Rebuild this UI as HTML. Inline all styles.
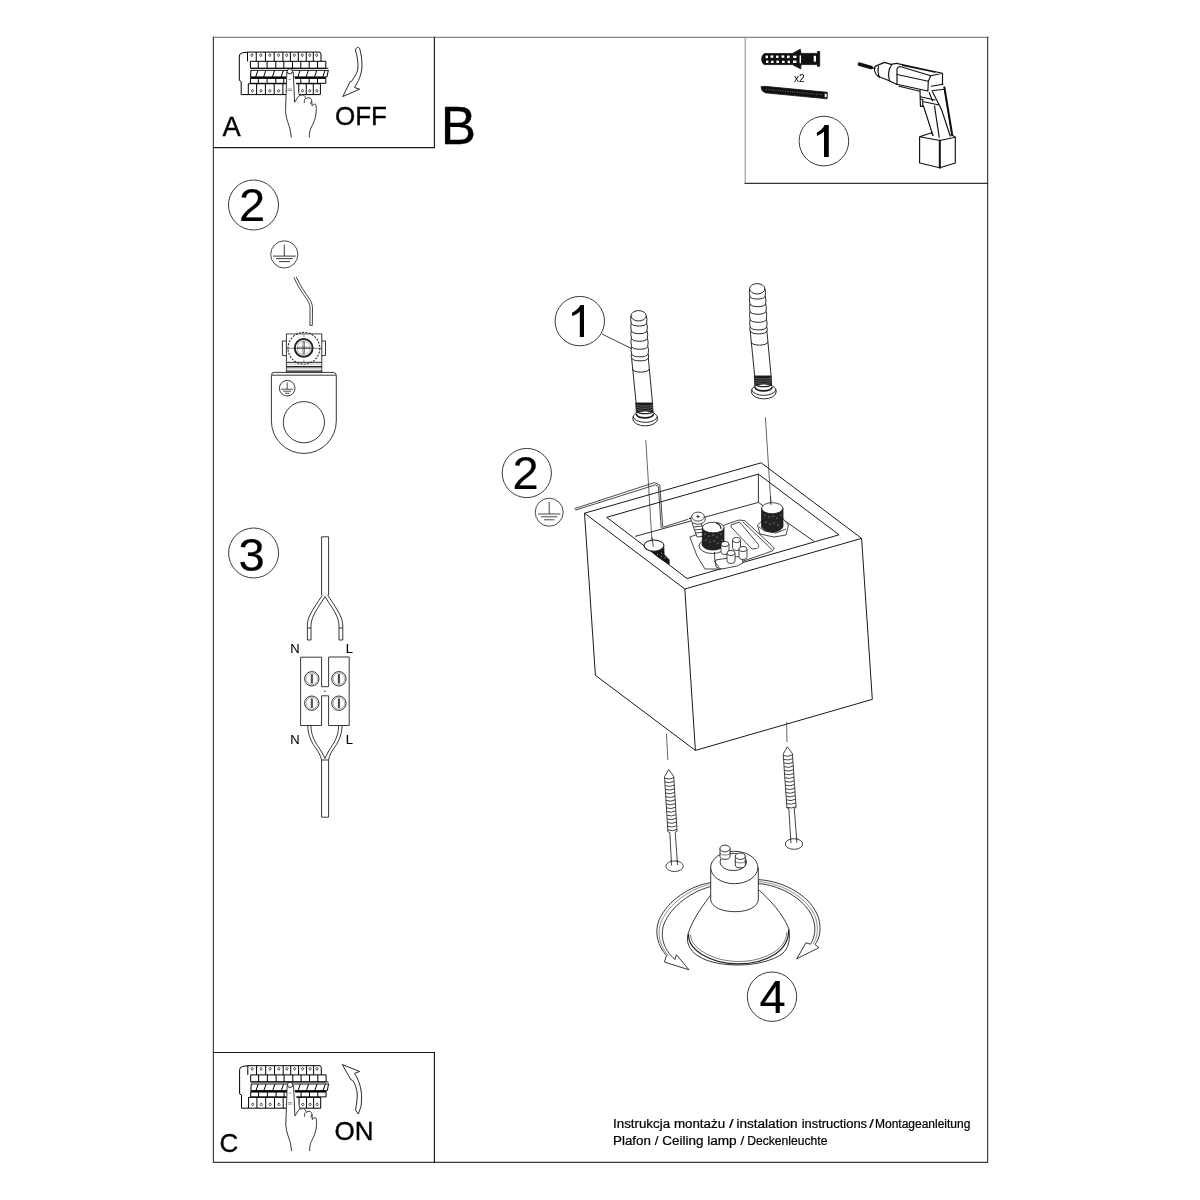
<!DOCTYPE html>
<html><head><meta charset="utf-8">
<style>
html,body{margin:0;padding:0;background:#fff;width:1200px;height:1200px;overflow:hidden}
svg{position:absolute;left:0;top:0;display:block;will-change:transform}
text{font-family:"Liberation Sans",sans-serif;fill:#000}
</style></head><body>
<svg width="1200" height="1200" viewBox="0 0 1200 1200">
<g fill="none" stroke-width="1.15" stroke-linecap="square">
<path d="M213.5 37.3 H988" stroke="#888"/>
<path d="M213.4 37.3 V1162.4 H987.6 V37.3" stroke="#3c3c3c"/>
<path d="M434.4 37.3 V147.6 H213.5" stroke="#1c1c1c"/>
<path d="M745.2 37.3 V183.3" stroke="#999"/>
<path d="M745.2 183.3 H987.6" stroke="#333"/>
<path d="M213.5 1052.5 H434.4 V1162.4" stroke="#151515"/>
</g>
<g stroke="#000" stroke-width="0.35">
<text x="222.6" y="135.9" font-size="27.3">A</text>
<text x="335" y="125" font-size="26">OFF</text>
<text x="440.8" y="143.6" font-size="53">B</text>
<text x="219.5" y="1151.5" font-size="26">C</text>
<text x="334.5" y="1139.5" font-size="26">ON</text>
</g>
<g font-size="12" fill="#000" stroke="#000" stroke-width="0.22">
<text x="613.0" y="1128" textLength="57.1" lengthAdjust="spacingAndGlyphs">Instrukcja</text>
<text x="673.9" y="1128" textLength="51.2" lengthAdjust="spacingAndGlyphs">montażu</text>
<text x="728.9" y="1128" textLength="4.5" lengthAdjust="spacingAndGlyphs">/</text>
<text x="736.4" y="1128" textLength="61.2" lengthAdjust="spacingAndGlyphs">instalation</text>
<text x="801.7" y="1128" textLength="65.4" lengthAdjust="spacingAndGlyphs">instructions</text>
<text x="869.2" y="1128" textLength="4.5" lengthAdjust="spacingAndGlyphs">/</text>
<text x="875.0" y="1128" textLength="95.4" lengthAdjust="spacingAndGlyphs">Montageanleitung</text>
<text x="613.0" y="1145" textLength="37.9" lengthAdjust="spacingAndGlyphs">Plafon</text>
<text x="654.7" y="1145" textLength="3.7" lengthAdjust="spacingAndGlyphs">/</text>
<text x="662.2" y="1145" textLength="41.2" lengthAdjust="spacingAndGlyphs">Ceiling</text>
<text x="707.2" y="1145" textLength="29.5" lengthAdjust="spacingAndGlyphs">lamp</text>
<text x="740.5" y="1145" textLength="3.7" lengthAdjust="spacingAndGlyphs">/</text>
<text x="747.2" y="1145" textLength="80.2" lengthAdjust="spacingAndGlyphs">Deckenleuchte</text>
</g>
<g><text x="794" y="81.5" font-size="10">x2</text>
</g>
<g fill="none" stroke="#3a3a3a" stroke-width="1">
<circle cx="823.9" cy="141.1" r="24.8"/>
<circle cx="253.5" cy="205" r="25"/>
<circle cx="253.6" cy="553" r="25"/>
<circle cx="579.8" cy="321.1" r="24.7"/>
<circle cx="526.8" cy="473" r="24.6"/>
<circle cx="772" cy="996.7" r="24.7"/>
</g>
<g font-size="47" stroke="#000" stroke-width="0.2">
<text x="239" y="220.5">2</text>
<text x="238.5" y="570.6">3</text>
<text x="512.5" y="489">2</text>
<text x="759.5" y="1013">4</text>
</g>
<g fill="#000">
<path d="M824 125 H828.8 V157 H824 V131.5 C822 133.5 819.5 135 816.9 135.9 V132.6 C820 131 823 128.5 824.6 125 Z"/>
<path d="M579.8 305 H584 V337 H579.8 V311.5 C577.8 313.5 575 315 572.1 316.1 V312.7 C575.5 311 578.5 308.5 580.4 305 Z"/>
</g>
<defs><g id="panelA"><g fill="none" stroke="#000" stroke-width="1" stroke-linejoin="round"><path d="M247.5 52.1 L242.5 52.8 Q239.3 53.6 239.3 56 V80.3 L241.2 81.6 V94.6 H248.3" /><path d="M247.5 61.3 V52.1 H320 L321 54 V61.3"/><path d="M256.25 52.1 V61.3"/><path d="M265.4 52.1 V61.3"/><path d="M274.2 52.1 V61.3"/><path d="M282.9 52.1 V61.3"/><path d="M290.4 52.1 V61.3"/><path d="M298.3 52.1 V61.3"/><path d="M306.25 52.1 V61.3"/><path d="M313.3 52.1 V61.3"/><path d="M251.88 53.70 L253.07 55.20 L251.88 56.70 L250.68 55.20 Z" stroke-width="0.7"/><path d="M260.82 53.70 L262.02 55.20 L260.82 56.70 L259.62 55.20 Z" stroke-width="0.7"/><path d="M269.80 53.70 L271.00 55.20 L269.80 56.70 L268.60 55.20 Z" stroke-width="0.7"/><path d="M278.55 53.70 L279.75 55.20 L278.55 56.70 L277.35 55.20 Z" stroke-width="0.7"/><path d="M286.65 53.70 L287.85 55.20 L286.65 56.70 L285.45 55.20 Z" stroke-width="0.7"/><path d="M294.35 53.70 L295.55 55.20 L294.35 56.70 L293.15 55.20 Z" stroke-width="0.7"/><path d="M302.27 53.70 L303.47 55.20 L302.27 56.70 L301.07 55.20 Z" stroke-width="0.7"/><path d="M309.77 53.70 L310.97 55.20 L309.77 56.70 L308.57 55.20 Z" stroke-width="0.7"/><path d="M316.65 53.70 L317.85 55.20 L316.65 56.70 L315.45 55.20 Z" stroke-width="0.7"/><rect x="250.4" y="61.3" width="75.4" height="7"/><path d="M258.3 61.3 V68.3"/><path d="M267.1 61.3 V68.3"/><path d="M275.8 61.3 V68.3"/><path d="M283.8 61.3 V68.3"/><path d="M292.5 61.3 V68.3"/><path d="M300.8 61.3 V68.3"/><path d="M309.2 61.3 V68.3"/><path d="M317.5 61.3 V68.3"/><path d="M251 68.3 H328.3 M251 70.4 H328.3" stroke-width="0.9"/><path d="M251 70 L250.5 77.1 H327 L328.3 70"/><path d="M257.9 70.5 L255.7 77"/><path d="M265.8 70.5 L263.6 77"/><path d="M274.6 70.5 L272.40000000000003 77"/><path d="M283.3 70.5 L281.1 77"/><path d="M291.3 70.5 L289.1 77"/><path d="M300.0 70.5 L297.8 77"/><path d="M308.3 70.5 L306.1 77"/><path d="M316.7 70.5 L314.5 77"/><path d="M325.0 70.5 L322.8 77"/><path d="M250.5 77.7 H325.8" stroke-width="1.8"/><rect x="250.4" y="78.3" width="75.4" height="5"/><path d="M258.3 78.3 V83.3"/><path d="M267.1 78.3 V83.3"/><path d="M275.8 78.3 V83.3"/><path d="M283.8 78.3 V83.3"/><path d="M292.5 78.3 V83.3"/><path d="M300.8 78.3 V83.3"/><path d="M309.2 78.3 V83.3"/><path d="M317.5 78.3 V83.3"/><path d="M248.3 83.75 H320.4 V94.6 H248.3 Z"/><path d="M256.6 83.75 V94.6"/><path d="M265.4 83.75 V94.6"/><path d="M274.2 83.75 V94.6"/><path d="M282.9 83.75 V94.6"/><path d="M291.3 83.75 V94.6"/><path d="M298.75 83.75 V94.6"/><path d="M306.25 83.75 V94.6"/><path d="M313.3 83.75 V94.6"/><path d="M252.45 89.30 L253.65 90.80 L252.45 92.30 L251.25 90.80 Z" stroke-width="0.7"/><path d="M261.00 89.30 L262.20 90.80 L261.00 92.30 L259.80 90.80 Z" stroke-width="0.7"/><path d="M269.80 89.30 L271.00 90.80 L269.80 92.30 L268.60 90.80 Z" stroke-width="0.7"/><path d="M278.55 89.30 L279.75 90.80 L278.55 92.30 L277.35 90.80 Z" stroke-width="0.7"/><path d="M287.10 89.30 L288.30 90.80 L287.10 92.30 L285.90 90.80 Z" stroke-width="0.7"/><path d="M295.02 89.30 L296.22 90.80 L295.02 92.30 L293.82 90.80 Z" stroke-width="0.7"/><path d="M302.50 89.30 L303.70 90.80 L302.50 92.30 L301.30 90.80 Z" stroke-width="0.7"/><path d="M309.77 89.30 L310.97 90.80 L309.77 92.30 L308.57 90.80 Z" stroke-width="0.7"/><path d="M316.85 89.30 L318.05 90.80 L316.85 92.30 L315.65 90.80 Z" stroke-width="0.7"/></g><path fill="#fff" stroke="none" d="M286.8 71 L293.3 71 L294.6 102.3 L298.3 96.5 C299 95.5 301 95 303 95 C304.5 95 305.5 97 306 99 C306.8 97.8 308.5 97.5 310 98 C311.5 98.5 312 101 312 106 C312.8 105 314 104 315.2 104 C316 104.5 316.5 107 316.2 111.5 C316 118 313.5 123 311 128 C310 130 309.3 133 309.3 137.5 L291.4 137.5 L290 129 C289 125 286 119 285.5 111.5 C285.8 100 286.6 85 286.8 71 Z"/><path fill="#fff" stroke="#222" stroke-width="0.9" d="M286.8 72 C286.6 85 285.8 100 285.5 111.5 C286 119 289 125 290 129 L291.4 137.5 M309.3 137.5 C309.3 133 310 130 311 128 C313.5 123 316 118 316.2 111.5 C316.5 107 316 104.5 315.2 104 C314 104 312.8 105 312 106 C312 101 311.5 98.5 310 98 C308.5 97.5 306.8 97.8 306 99 C305.5 97 304.5 95 303 95 C301 95 299 95.5 298.3 96.5 L294.6 102.3 L293.3 72"/><path fill="none" stroke="#222" stroke-width="0.8" d="M304.2 103.2 L304.5 99 M310.5 104 L311.5 101 M286.8 72 L293.3 72"/><circle cx="289.8" cy="71.3" r="2.6" fill="#fff" stroke="#111" stroke-width="0.9"/><path fill="none" stroke="#555" stroke-width="0.6" d="M288.5 79.5 H291 M287.5 89 H292 M287.5 90.5 H292"/></g></defs>
<use href="#panelA"/>
<use href="#panelA" transform="translate(0.3 1013.6)"/>
<path fill="#fff" stroke="#111" stroke-width="0.9" stroke-linejoin="round" d="M357.75 47.3 C356 48 355.3 49.5 355.6 51 C357 55 357.8 60 358 66 C358 70 357 72.5 355.8 74.5 L351.6 81.4 L350.2 81.6 L342.8 96.5 L359.6 89.2 L354.6 87.6 L358.4 80.5 C360.5 76 362 71 362 65 C362 59 361 53 359.6 48.5 C359 47.5 358.5 47.2 357.75 47.3 Z"/>
<path fill="#fff" stroke="#111" stroke-width="0.9" stroke-linejoin="round" d="M342.3 1064.5 L359.6 1071.5 L354.5 1073.4 C357.5 1078 360 1084 361 1090 C362 1096 361.5 1102 361 1106.5 L358.3 1114 L355.6 1110.2 C356.5 1104 357.5 1098 357.2 1093 C356.5 1088 355 1084 352.9 1080.5 L350.7 1079.6 Z"/>
<g fill="none" stroke="#222" stroke-width="0.9">
<!-- earth symbol -->
<circle cx="284.3" cy="254.4" r="13.6" stroke="#333"/>
<path d="M284.3 244.7 V256.1 M273 256.1 H295.8 M276 258.6 H292.8 M279 261.6 H290" stroke="#222"/>
<!-- wire -->
<path d="M293.9 277.4 C297.5 286 302.5 293 307 299.5 C309.5 303 310 306 310.1 309 L309.9 325.4 M296.2 276.8 C300 285.5 305 292.5 309.5 299 C312 302.5 312.5 306 312.5 309 L312.3 325.4" stroke-width="0.85"/>
<path d="M309.9 325.4 H312.3" stroke-width="0.85"/>
<!-- terminal square -->
<path d="M286.4 372.3 V333.8 H321.8 V372.3" />
<path d="M286.4 333.8 H321.8" stroke="#999" stroke-width="1"/>
<path d="M286.4 341 H282.4 V355.6 H286.4 M321.8 341 H325.5 V355.6 H321.8"/>
<circle cx="303.9" cy="348.3" r="15.9" stroke-dasharray="2 1.3" stroke-width="1.1"/>
<circle cx="303.7" cy="347.9" r="8.9" stroke-width="2"/>
<circle cx="303.7" cy="347.9" r="6.6" stroke-width="0.5" stroke="#666"/>
<path d="M286.4 348.3 H321.8" stroke-width="0.6"/>
<path d="M297.8 347.2 H309.6 V348.6 H297.8 Z M303 341.8 H304.4 V353.6 H303 Z" stroke-width="0.6" fill="#fff"/>
<path d="M303.9 332.4 V337 M303.9 359.5 V363" stroke-width="0.8" stroke="#888"/>
<!-- strip -->
<path d="M286.4 362.3 H321.8" stroke-width="1"/>
<path d="M286.4 364.1 H321.8 M286.4 368.75 H321.8 M286.4 372.8 H321.8" stroke-width="0.6" stroke="#999"/>
<path d="M286.4 366.7 H321.8 M286.4 371.1 H321.8" stroke-width="1.4"/>
<!-- lug -->
<path d="M274.5 372.4 H333.2 Q336.3 372.3 336.3 375.4 V421 A32.4 32.4 0 0 1 271.4 421 V375.4 Q271.4 372.3 274.5 372.3 Z"/>
<circle cx="303.9" cy="422.2" r="20.6"/>
<path d="M271.8 375.2 H335.9" stroke-width="0.9"/>
<circle cx="287.2" cy="388.2" r="7.8"/>
<path d="M287.2 382.5 V389.2 M281.2 389.2 H293.2 M283.2 391.2 H291.2 M285 393.2 H289.4" stroke-width="0.8"/>
</g>
<g fill="none" stroke="#222" stroke-width="0.9">
<!-- top cable -->
<path d="M321.6 595 V536.8 H328.6 V595"/>
<!-- diverging wires -->
<path d="M322.5 595 C318 602 312 610 309 617 C307.5 621 307.3 624 307.4 628 V640 M325 596.5 C320.5 604 315 611 312.5 618 C311.3 621.5 311 624 311 628 V640 M307.4 640 H311 M307.4 628 H311"/>
<path d="M327.6 595 C332 602 338 610 341 617 C342.5 621 342.8 624 342.8 628 V640 M325 596.5 C329.5 604 335 611 337.6 618 C338.8 621.5 339 624 339 628 V640 M339 640 H342.8 M339 628 H342.8"/>
<!-- block -->
<path d="M300.6 657.2 H321.6 V686.7 H328.6 V657 H349.2 V725.5 H328.6 V695.8 H321.6 V725.5 H300.6 Z"/>
<circle cx="324.9" cy="691.1" r="0.9" fill="#666" stroke="none"/>
<g>
<circle cx="311.8" cy="678.8" r="7.2" stroke-width="1" stroke="#333"/><circle cx="311.8" cy="678.8" r="5.8" stroke-width="0.6" stroke="#777"/><path d="M311.3 674.1 V683.5 M312.3 674.1 V683.5" stroke-width="0.9"/>
<circle cx="338.9" cy="678.8" r="7.2" stroke-width="1" stroke="#333"/><circle cx="338.9" cy="678.8" r="5.8" stroke-width="0.6" stroke="#777"/><path d="M338.4 674.1 V683.5 M339.4 674.1 V683.5" stroke-width="0.9"/>
<circle cx="311.8" cy="703.2" r="7.2" stroke-width="1" stroke="#333"/><circle cx="311.8" cy="703.2" r="5.8" stroke-width="0.6" stroke="#777"/><path d="M311.3 698.5 V707.9 M312.3 698.5 V707.9" stroke-width="0.9"/>
<circle cx="338.9" cy="703.2" r="7.2" stroke-width="1" stroke="#333"/><circle cx="338.9" cy="703.2" r="5.8" stroke-width="0.6" stroke="#777"/><path d="M338.4 698.5 V707.9 M339.4 698.5 V707.9" stroke-width="0.9"/>
</g>
<!-- converging wires -->
<path d="M307.8 725.5 C307.8 733 310 740 315 747 C318 751 320.5 755 321.6 760 M311 725.5 C311 732.5 313 739 317.5 745.5 C320.5 750 323 754 324.9 758.5"/>
<path d="M342 725.5 C342 733 339.8 740 334.8 747 C331.8 751 329.3 755 328.6 760 M338.6 725.5 C338.6 732.5 336.6 739 332.2 745.5 C329.2 750 326.8 754 324.9 758.5"/>
<path d="M321.6 760 V817.2 H328.6 V760 Z"/>
</g>
<g font-size="13" stroke="#000" stroke-width="0.1">
<text x="290.2" y="653">N</text>
<text x="345.8" y="653">L</text>
<text x="290.2" y="743.6">N</text>
<text x="345.8" y="743.6">L</text>
</g>
<g stroke-linejoin="round">
<!-- dowel anchor -->
<path fill="#111" stroke="#111" stroke-width="0.8" d="M764.5 53.6 H792.3 L800.3 49.3 L801 53.4 H817.3 L817.6 51.3 L819.7 51.6 V66.2 L817.6 66.4 L817.3 64.6 H801 L800.8 68.9 L792.3 64.6 H764.5 C762 64 761.6 60 761.7 59 C761.8 57 762.5 54.5 764.5 53.6 Z"/>
<g fill="#fff" stroke="none">
<rect x="765.6" y="55.6" width="2.4" height="2.6"/><rect x="770.5" y="55.4" width="2.8" height="2.4"/><rect x="776" y="55.6" width="2.6" height="2.3"/><rect x="781.5" y="55.4" width="2.8" height="2.4"/><rect x="787" y="55.6" width="2.6" height="2.5"/><rect x="793" y="55.7" width="3.5" height="2.2"/>
<rect x="766" y="60.6" width="2.4" height="2.4"/><rect x="771" y="60.8" width="2.6" height="2.2"/><rect x="776.4" y="60.6" width="2.6" height="2.4"/><rect x="782" y="60.8" width="2.6" height="2.2"/><rect x="787.6" y="60.7" width="2.4" height="2.4"/><rect x="793" y="60.6" width="3.4" height="2.4"/>
<rect x="799.6" y="55.4" width="1.4" height="7.8"/><rect x="813.7" y="55.8" width="2.3" height="5.8"/>
</g>
<!-- screw -->
<path fill="#111" stroke="#111" stroke-width="0.8" d="M761 86.8 L764.5 86.3 L827.3 92.3 L827.1 98.8 L765 92.8 L762 90.5 Z"/>
<path fill="#fff" stroke="#111" stroke-width="0.7" d="M824.3 93.3 L827.1 93.6 L826.9 97.8 L824.3 97.3 Z"/>
<path fill="none" stroke="#fff" stroke-width="0.5" stroke-dasharray="0.8 1.6" d="M766 89.3 L823 94.8"/>
</g>
<!-- drill -->
<g fill="none" stroke="#111" stroke-width="1.15" stroke-linejoin="round" stroke-linecap="round">
<path d="M859.5 64.2 L871.5 67.6" stroke-width="3.6" stroke-dasharray="1.3 0.5"/>
<path d="M871 67.4 L875 68.6" stroke-width="1.1"/>
<path d="M875 66.8 C874 69 874.3 73 878 76.2 M878.5 66.5 C877.8 69 877.8 73 879.6 77.6"/>
<path d="M875 66.4 L884.5 62.4 L891 64.4 L896.5 63.4 M878 76.2 L888 80.2 L896.8 84.5"/>
<path d="M891.8 64.8 C888.5 68 887.8 75 889.6 81"/>
<path d="M896.5 63.4 L942.5 73.3 V84.6 M902.5 65.5 L935 72.1 M897 69.2 C897.5 67.5 898.5 66.5 900 66.5 L930.8 75.8 L942.5 73.3 M897 69.2 V84.5"/>
<path d="M897 74.5 L928.3 81.25 M896.8 84.2 L928 91 M899 86.2 L920 91.2 M930.8 75.8 L928.3 81.25 L927.9 90.8 M931.2 86.2 L942.9 84.2"/>
<path d="M920 90.2 L920.4 105.8 M920.5 99.2 H922.8 V106.4 H920.5 M932 90.8 L944.2 89.2 M944.2 87 L952 135" />
<path d="M944.4 87.5 L952.2 135" stroke-width="2"/>
<path d="M929.2 92.5 L932.5 100.8 M932.5 91.7 L941.7 110 L950.3 136.2 M920.4 96.7 L935 100 M923.8 101.7 L939.2 105 M923.4 105.8 L932.8 135 M934.5 105.8 L939.2 137.3"/>
<path d="M919.6 136.8 L931.6 132.7 L933 135.5 M919.6 136.8 L939.8 140.5 L955.5 137.3 L951 134.6 M919.6 136.8 V163 L939.8 167.7 L955.3 163 V137.3"/>
<path d="M939.8 140.5 V167.7" stroke-width="2"/>
</g>
<g fill="none" stroke="#1e1e1e" stroke-width="0.95"><ellipse cx="638.60" cy="315.80" rx="7.6" ry="5.2"/><path d="M631.09 315.80 Q630.19 319.50 631.29 323.20 A7.74 3.4 0 0 0 646.56 323.20 Q647.46 319.50 646.36 315.80"/><path d="M631.18 323.20 Q630.28 327.00 631.38 330.80 A7.88 3.4 0 0 0 646.94 330.80 Q647.84 327.00 646.74 323.20"/><path d="M631.27 330.80 Q630.37 334.60 631.47 338.40 A8.03 3.4 0 0 0 647.32 338.40 Q648.22 334.60 647.12 330.80"/><path d="M631.36 338.40 Q630.46 342.40 631.56 346.40 A8.18 3.4 0 0 0 647.72 346.40 Q648.62 342.40 647.52 338.40"/><path d="M631.46 346.40 Q630.56 350.20 631.66 354.00 A8.32 3.4 0 0 0 648.10 354.00 Q649.00 350.20 647.90 346.40"/><path d="M631.50 354.00 Q630.60 356.00 631.70 358.00 A8.40 3.4 0 0 0 648.30 358.00 Q649.20 356.00 648.10 354.00"/><path d="M631.60 358.00 L636.20 404.00 M648.30 358.00 L652.60 404.00"/><path d="M632.40 369.00 A8 3 0 0 0 649.20 369.00"/><path d="M635.80 403.00 L636.40 415.00 L653.20 415.00 L652.50 403.00 Z" fill="#1a1a1a"/><path d="M636.60 405.00 A8.2 1.4 0 0 0 652.60 405.00" stroke="#bbb" stroke-width="0.45"/><path d="M636.60 407.20 A8.2 1.4 0 0 0 652.60 407.20" stroke="#bbb" stroke-width="0.45"/><path d="M636.60 409.40 A8.2 1.4 0 0 0 652.60 409.40" stroke="#bbb" stroke-width="0.45"/><path d="M636.60 411.60 A8.2 1.4 0 0 0 652.60 411.60" stroke="#bbb" stroke-width="0.45"/><path d="M636.60 413.80 A8.2 1.4 0 0 0 652.60 413.80" stroke="#bbb" stroke-width="0.45"/><ellipse cx="645.20" cy="418.40" rx="12.5" ry="7.5" fill="#fff"/><path d="M633.00 416.60 A12.3 6.6 0 0 0 657.40 416.60"/><path d="M636.20 414.00 A8.8 4.6 0 0 0 653.60 414.00" stroke-width="1.6"/><path d="M637.00 411.50 A8.4 3.2 0 0 0 653.00 411.50" stroke-width="1.2"/></g>
<g fill="none" stroke="#1e1e1e" stroke-width="0.95"><ellipse cx="757.20" cy="288.80" rx="7.6" ry="5.2"/><path d="M749.69 288.80 Q748.79 292.50 749.89 296.20 A7.74 3.4 0 0 0 765.16 296.20 Q766.06 292.50 764.96 288.80"/><path d="M749.78 296.20 Q748.88 300.00 749.98 303.80 A7.88 3.4 0 0 0 765.54 303.80 Q766.44 300.00 765.34 296.20"/><path d="M749.87 303.80 Q748.97 307.60 750.07 311.40 A8.03 3.4 0 0 0 765.92 311.40 Q766.82 307.60 765.72 303.80"/><path d="M749.96 311.40 Q749.06 315.40 750.16 319.40 A8.18 3.4 0 0 0 766.32 319.40 Q767.22 315.40 766.12 311.40"/><path d="M750.06 319.40 Q749.16 323.20 750.26 327.00 A8.32 3.4 0 0 0 766.70 327.00 Q767.60 323.20 766.50 319.40"/><path d="M750.10 327.00 Q749.20 329.00 750.30 331.00 A8.40 3.4 0 0 0 766.90 331.00 Q767.80 329.00 766.70 327.00"/><path d="M750.20 331.00 L754.80 377.00 M766.90 331.00 L771.20 377.00"/><path d="M751.00 342.00 A8 3 0 0 0 767.80 342.00"/><path d="M754.40 376.00 L755.00 388.00 L771.80 388.00 L771.10 376.00 Z" fill="#1a1a1a"/><path d="M755.20 378.00 A8.2 1.4 0 0 0 771.20 378.00" stroke="#bbb" stroke-width="0.45"/><path d="M755.20 380.20 A8.2 1.4 0 0 0 771.20 380.20" stroke="#bbb" stroke-width="0.45"/><path d="M755.20 382.40 A8.2 1.4 0 0 0 771.20 382.40" stroke="#bbb" stroke-width="0.45"/><path d="M755.20 384.60 A8.2 1.4 0 0 0 771.20 384.60" stroke="#bbb" stroke-width="0.45"/><path d="M755.20 386.80 A8.2 1.4 0 0 0 771.20 386.80" stroke="#bbb" stroke-width="0.45"/><ellipse cx="763.80" cy="391.40" rx="12.5" ry="7.5" fill="#fff"/><path d="M751.60 389.60 A12.3 6.6 0 0 0 776.00 389.60"/><path d="M754.80 387.00 A8.8 4.6 0 0 0 772.20 387.00" stroke-width="1.6"/><path d="M755.60 384.50 A8.4 3.2 0 0 0 771.60 384.50" stroke-width="1.2"/></g>
<path d="M602 334 L632 348.8" stroke="#222" stroke-width="0.85" fill="none"/>
<path d="M645.8 440 L652.2 545 M765.4 417.3 L771 505 M666.4 733.4 L667.9 760 M786.7 722 L786.9 742" stroke="#333" stroke-width="0.75" fill="none"/>
<g fill="none" stroke="#1a1a1a" stroke-width="1" stroke-linejoin="round">
<!-- outer -->
<path d="M584.5 513.2 L761.2 462.8 L861.6 538.4 L872.3 699.4 L695.4 750.4 L595.4 675.3 Z"/>
<path d="M584.5 513.2 L684.8 589 L861.6 538.4 M684.8 589 L695.4 750.4"/>
<!-- inner rim -->
<path d="M606.7 517.3 L758.4 474.1 L839.1 534.8 L687 578.5 Z"/>
<!-- depth lines -->
<path d="M758.4 474.1 V502.4 L813.9 541.2 M758.4 502.4 L635 536.4" stroke-width="0.9"/>
<!-- bracket wire -->
<path d="M574.6 508.6 L654.5 482.6 L659.8 485 L662.8 527.3 L688.3 519.2 M575.2 510.2 L655.6 484.8 L658.4 486.6 L661.2 528.2" stroke-width="0.8"/>
</g>
<!-- earth symbol in B -->
<g fill="none" stroke="#333" stroke-width="0.9">
<circle cx="549.2" cy="512.2" r="14"/>
<path d="M549.2 502 V514 M538 514 H560.4 M541 516.8 H557.4 M544 519.8 H554.4"/>
</g>
<g fill="none" stroke="#1a1a1a" stroke-width="0.8" stroke-linejoin="round">
<!-- left nut -->
<path d="M650.5 551 C655 552 660 550.5 663.8 547 L664.3 554.5 L666.5 557 L669.3 559.8 L669.3 564.5 L658.5 557.6 Z" fill="#151515" stroke-width="0.6"/>
<ellipse cx="654" cy="545.6" rx="10" ry="5.6" fill="#fff" stroke-width="1.1"/>
<path d="M662.5 550 L663.5 548.5" stroke-width="2"/>
<g fill="#fff" stroke="none"><circle cx="657.4" cy="554.5" r="0.45"/><circle cx="661.4" cy="553" r="0.45"/><circle cx="661.5" cy="556.3" r="0.45"/><circle cx="665" cy="557.7" r="0.5"/></g>
<!-- plate -->
<path d="M689.8 537 L739 520 L745 520.8 L774.4 548 L772.3 551 L720 569 L705 569 L697 556 Z" fill="#fff"/>
<path d="M731 525 L739.5 522 L758 544 C759.5 546 758.5 548 756.5 548.5 L752 549 L731 527 Z"/>
<path d="M743 522 L772 549.5"/>
<!-- cross screw + bracket -->
<path d="M692 523 L700.5 521.5 L706 536 L697 537 Z" fill="#fff"/>
<path d="M693.5 527 L702 526 M694.5 530 L703.5 529 M695.5 533 L704.5 532"/>
<ellipse cx="698" cy="519" rx="7.3" ry="5.2" fill="#fff"/>
<ellipse cx="698" cy="516.6" rx="6.3" ry="4.5" fill="#fff"/>
<path d="M696.5 516.6 H699.5 M698 515.2 V518" stroke-width="1"/>
<path d="M689 518.5 L690.7 518.4" stroke-width="1.2"/>
<!-- big nut center -->
<ellipse cx="712.5" cy="546" rx="13.5" ry="7.5" fill="#fff"/>
<ellipse cx="712.5" cy="544" rx="10.5" ry="5.5"/>
<path d="M702.3 527.5 V545 C704 549 709 550 713 550 C718 550 722 548.5 724 545 V527.5 Z" fill="#222"/>
<ellipse cx="713.2" cy="527.5" rx="10.8" ry="5.3" fill="#fff"/>
<path d="M716 523 C719 524 721 526.5 721 529" stroke-width="1.2"/>
<g fill="#fff" stroke="none" opacity="0.9">
<circle cx="705" cy="534" r="0.5"/><circle cx="709" cy="536" r="0.5"/><circle cx="713" cy="535" r="0.5"/><circle cx="717" cy="537" r="0.5"/><circle cx="721" cy="534" r="0.5"/>
<circle cx="706" cy="540" r="0.5"/><circle cx="710" cy="542" r="0.5"/><circle cx="714" cy="541" r="0.5"/><circle cx="718" cy="543" r="0.5"/><circle cx="722" cy="540" r="0.5"/>
</g>
<!-- terminals -->
<path d="M715.5 560 L716 567 L722 569 L737 566 L743 563 L742 556 Z" fill="#fff"/>
<path d="M714.5 552 L714.8 562 L717 565 L719 566.5"/>
<path d="M721 544 V552 A4 2.5 0 0 0 729 552 V544" fill="#fff"/>
<ellipse cx="725" cy="544" rx="4" ry="2.6" fill="#fff"/>
<path d="M732.5 540 V548 A4 2.5 0 0 0 740.5 548 V540" fill="#fff"/>
<ellipse cx="736.5" cy="540" rx="4" ry="2.6" fill="#fff"/>
<path d="M727 553 V561 A4 2.5 0 0 0 735 561 V553" fill="#fff"/>
<ellipse cx="731" cy="553" rx="4" ry="2.6" fill="#fff"/>
<path d="M739 549 V557 A4 2.5 0 0 0 747 557 V549" fill="#fff"/>
<ellipse cx="743" cy="549" rx="4" ry="2.6" fill="#fff"/>
<!-- right nut -->
<path d="M757.5 525 L764 519 L782 517.5 L788.5 525 L786 535 L774 537 L760 534 Z" fill="#fff"/>
<path d="M759 527 L764.5 531 L776 533 L786 529" />
<path d="M761.5 508 V527 C764 531 769 532 772 532 C777 532 781 530.5 783 527 V508 Z" fill="#222"/>
<ellipse cx="772.2" cy="508.2" rx="10.6" ry="5.5" fill="#fff"/>
<g fill="#fff" stroke="none" opacity="0.9">
<circle cx="765" cy="515" r="0.5"/><circle cx="769" cy="517" r="0.5"/><circle cx="773" cy="516" r="0.5"/><circle cx="777" cy="518" r="0.5"/><circle cx="781" cy="515" r="0.5"/>
<circle cx="766" cy="522" r="0.5"/><circle cx="770" cy="524" r="0.5"/><circle cx="774" cy="523" r="0.5"/><circle cx="778" cy="525" r="0.5"/>
</g>
</g>
<!-- re-draw guide line tips over nuts -->
<path d="M652 537 L653.3 546.8 M770.5 496 L771 505" stroke="#222" stroke-width="0.8" fill="none"/>
<g fill="none" stroke="#222" stroke-width="0.85"><path d="M668.70 769.50 L673.72 776.21 L677.07 831.10 L675.23 832.22 L677.47 864.02 M668.70 769.50 L664.53 776.77 L667.88 831.67 L669.84 832.55 L671.48 864.39"/><path d="M673.81 777.70 Q669.34 779.98 664.63 778.26"/><path d="M674.03 781.40 Q669.56 783.67 664.85 781.96"/><path d="M674.26 785.09 Q669.79 787.37 665.08 785.65"/><path d="M674.49 788.78 Q670.02 791.06 665.30 789.34"/><path d="M674.71 792.48 Q670.24 794.75 665.53 793.04"/><path d="M674.94 796.17 Q670.47 798.45 665.75 796.73"/><path d="M675.16 799.86 Q670.69 802.14 665.98 800.42"/><path d="M675.39 803.56 Q670.92 805.83 666.20 804.12"/><path d="M675.61 807.25 Q671.14 809.53 666.43 807.81"/><path d="M675.84 810.94 Q671.37 813.22 666.65 811.50"/><path d="M676.06 814.64 Q671.59 816.91 666.88 815.20"/><path d="M676.29 818.33 Q671.82 820.60 667.10 818.89"/><path d="M676.51 822.02 Q672.04 824.30 667.33 822.58"/><path d="M676.74 825.71 Q672.27 827.99 667.56 826.28"/><path d="M676.96 829.41 Q672.49 831.68 667.78 829.97"/><ellipse cx="674.60" cy="866.20" rx="8.7" ry="5.3" fill="#fff"/><path d="M677.23 860.03 L677.53 865.02 M671.24 860.39 L671.54 865.38"/></g>
<g fill="none" stroke="#222" stroke-width="0.85"><path d="M787.30 746.80 L792.37 753.47 L796.08 807.34 L794.26 808.47 L796.86 841.80 M787.30 746.80 L783.19 754.10 L786.91 807.97 L788.87 808.84 L790.87 842.21"/><path d="M792.47 754.96 Q788.02 757.28 783.30 755.60"/><path d="M792.73 758.65 Q788.28 760.97 783.55 759.29"/><path d="M792.98 762.35 Q788.53 764.66 783.80 762.98"/><path d="M793.24 766.04 Q788.79 768.35 784.06 766.67"/><path d="M793.49 769.73 Q789.04 772.04 784.31 770.36"/><path d="M793.75 773.42 Q789.29 775.73 784.57 774.05"/><path d="M794.00 777.11 Q789.55 779.42 784.82 777.74"/><path d="M794.25 780.80 Q789.80 783.11 785.08 781.43"/><path d="M794.51 784.49 Q790.06 786.81 785.33 785.13"/><path d="M794.76 788.18 Q790.31 790.50 785.59 788.82"/><path d="M795.02 791.88 Q790.57 794.19 785.84 792.51"/><path d="M795.27 795.57 Q790.82 797.88 786.09 796.20"/><path d="M795.53 799.26 Q791.08 801.57 786.35 799.89"/><path d="M795.78 802.95 Q791.33 805.26 786.60 803.58"/><path d="M796.04 806.64 Q791.58 808.95 786.86 807.27"/><ellipse cx="794.00" cy="844.00" rx="8.7" ry="5.3" fill="#fff"/><path d="M796.58 837.81 L796.92 842.80 M790.59 838.22 L790.94 843.21"/></g>
<g fill="none" stroke="#222" stroke-width="0.9" stroke-linejoin="round">
<!-- rotation arrows -->
<path fill="#fff" d="M710.5 882.6 C690 886 668 900 659 920 C654 933 658 946 666.5 955.5 L664.4 962 L689 969.8 L676.4 954.7 L675 959.5 C664 950 659.5 937 664 924 C671 906 692 891 711 886.5 Z"/>
<path d="M709 884.5 C690 889 669.5 903 661 922 C656.5 934 660 946 668.5 956" stroke-width="0.5"/>
<path fill="#fff" d="M758 879.6 C785 881 812 897 818.5 918 C821.5 928 820 938 815 944.5 L819 947.6 L796.7 958.8 L806 942.8 L810.5 944.2 C815 937 816 928.5 813.5 920 C807.5 901 783 885.5 758 883.5 Z"/>
<path d="M758 881.5 C784 883.5 809.5 899 816 919 C818.5 928.5 817.5 937.5 813 944" stroke-width="0.5"/>
<!-- reflector -->
<path fill="#fff" d="M712.8 892.2 C704 904 693 918 688 934 C686 942 689 950 698 956 C709 963 725 965 738 965 C755 965 772 961 782 954 C789 948 790.5 939 788.8 928.7 C783 914 770 900 759.5 890.5 Z"/>
<path d="M688.6 934 C687.5 950 711 963.8 738.3 963.8 C766 963.8 789.5 951 788.6 929.5" stroke-width="1.2"/>
<path d="M690.5 935 C691 948 713 961.5 738.3 961.5 C764 961.5 786.5 949.5 786.8 932" stroke-width="0.6"/>
<!-- cylinder base -->
<path fill="#fff" d="M710.7 867.5 V900 C711.5 907 722 911.7 735 911.7 C748 911.7 757.5 907 758.3 900 V867.5 Z"/>
<ellipse cx="734.3" cy="867.5" rx="23.6" ry="16.2" fill="#fff"/>
<ellipse cx="733.3" cy="862" rx="13.3" ry="8.6"/>
<!-- pins -->
<path fill="#fff" d="M720 848.5 V856.5 A5 2.8 0 0 0 730 856.5 V848.5 Z"/>
<ellipse cx="725" cy="848.5" rx="5" ry="3.4" fill="#fff"/>
<path d="M720 852.6 A5 2.4 0 0 0 730 852.6" stroke-width="0.6"/>
<path fill="#fff" d="M735.3 856.2 V865 A5 2.8 0 0 0 745.3 865 V856.2 Z"/>
<ellipse cx="740.3" cy="856.2" rx="5" ry="3.2" fill="#fff"/>
<path d="M735.3 860.5 A5 2.4 0 0 0 745.3 860.5" stroke-width="0.6"/>
</g>
</svg>
</body></html>
